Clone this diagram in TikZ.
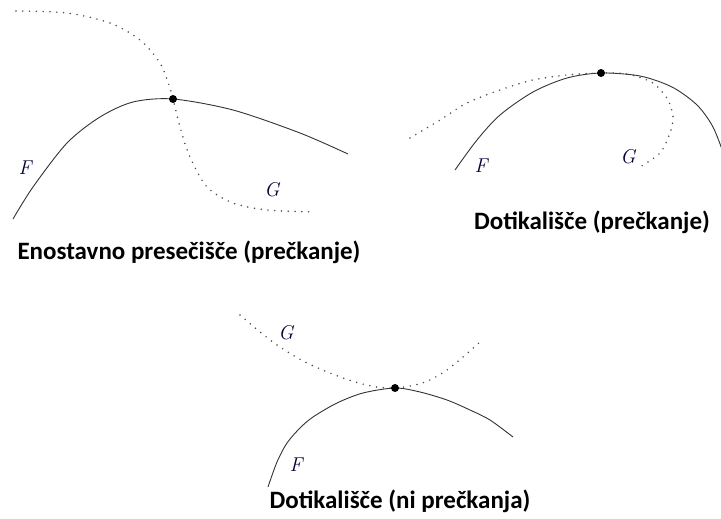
\documentclass[tikz,border=0pt]{standalone}
\usepackage{fontspec}
\setmainfont{Carlito}
\newfontfamily\lmrfam{Latin Modern Roman}
\begin{document}
\begin{tikzpicture}[x=1pt,y=-1pt,
  fcurve/.style={draw=black!80, line width=0.9pt},
  gcurve/.style={draw=black!70, line width=1.7pt, line cap=round, dash pattern=on 0pt off 6.8pt},
  touch/.style={circle, fill=black, inner sep=0pt, minimum size=8pt},
  mathlbl/.style={font=\lmrfam\itshape\fontsize{20}{20}\selectfont, text=black!80!blue, inner sep=0pt},
  caption/.style={font=\bfseries\fontsize{25}{28}\selectfont, inner sep=0pt}]
\useasboundingbox (0,0) rectangle (721,519);
% Panel 1
\draw[fcurve] plot[smooth] coordinates {(13,219) (33,187) (67,143) (100,117) (133,102) (173,99) (233,110) (300,133) (348,154)};
\draw[gcurve] plot[smooth] coordinates {(16,11) (67,13) (110,23) (140,40) (160,63) (170,88) (173,99) (180,127) (190,157) (207,187) (233,203) (267,210) (315,212)};
\node[touch] (p1) at (173,99) {};
\node[mathlbl] (f1) at (25,168) {F};
\node[mathlbl] (g1) at (272,190) {G};
\node[caption] (c1) at (189,252) {Enostavno presečišče (prečkanje)};
% Panel 2
\begin{scope}
\clip (400,0) rectangle (721,300);
\draw[fcurve] plot[smooth] coordinates {(455,170) (477,140) (500,115) (533,92) (567,78) (601,73) (640,76) (672,87) (697,105) (713,127) (724,155)};
\end{scope}
\draw[gcurve] plot[smooth] coordinates {(410,138) (440,120) (467,103) (500,90) (533,80) (567,75) (601,73) (627,74) (653,83) (668,100) (673,117) (670,133) (660,153) (640,167)};
\node[touch] (p2) at (601,73) {};
\node[mathlbl] (f2) at (481,166) {F};
\node[mathlbl] (g2) at (628,157) {G};
\node[caption] (c2) at (592,222) {Dotikališče (prečkanje)};
% Panel 3
\draw[gcurve] plot[smooth] coordinates {(240,315) (260,332) (280,347) (305,362) (330,373) (355,382) (377,387) (395,388) (415,385) (430,380) (447,370) (463,357) (480,342)};
\draw[fcurve] plot[smooth] coordinates {(268,487) (277,462) (287,443) (300,428) (313,417) (337,403) (363,393) (395,388) (420,392) (447,400) (470,410) (490,420) (513,437)};
\node[touch] (p3) at (395,388) {};
\node[mathlbl] (g3) at (286,333) {G};
\node[mathlbl] (f3) at (296,465) {F};
\node[caption] (c3) at (400,501) {Dotikališče (ni prečkanja)};
\end{tikzpicture}
\end{document}
